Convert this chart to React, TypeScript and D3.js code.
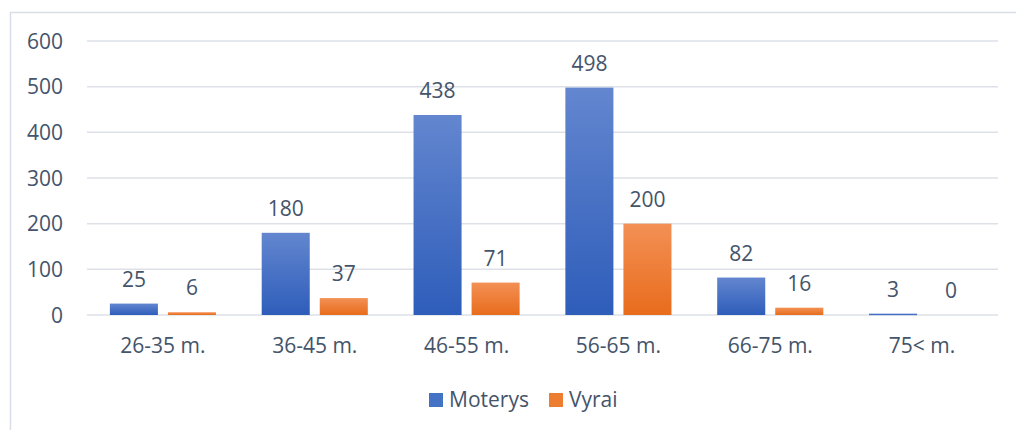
import React, { useRef, useEffect } from 'react';
import * as d3 from 'd3';

const categories = ['26-35 m.', '36-45 m.', '46-55 m.', '56-65 m.', '66-75 m.', '75< m.'];
const seriesNames = ['Moterys', 'Vyrai'];
const moterys = [25, 180, 438, 498, 82, 3];
const vyrai = [6, 37, 71, 200, 16, 0];
const yTicks = [0, 100, 200, 300, 400, 500, 600];

const width = 1016;
const height = 430;
const textColor = '#44546A';
const font = '"Open Sans", "Noto Sans", sans-serif';

const App: React.FC = () => {
  const svgRef = useRef<SVGSVGElement>(null);

  useEffect(() => {
    if (!svgRef.current) return;
    const svg = d3.select(svgRef.current);
    svg.selectAll('*').remove();

    const plot = { left: 87, right: 998, top: 41, bottom: 315 };

    // gradients for bars
    const defs = svg.append('defs');
    const grads = [
      { id: 'gBlue', top: '#6386CF', bottom: '#2E5DBA' },
      { id: 'gOrange', top: '#F39055', bottom: '#E86C1C' },
    ];
    grads.forEach(gd => {
      const lg = defs.append('linearGradient')
        .attr('id', gd.id)
        .attr('x1', 0).attr('y1', 0).attr('x2', 0).attr('y2', 1);
      lg.append('stop').attr('offset', '0%').attr('stop-color', gd.top);
      lg.append('stop').attr('offset', '100%').attr('stop-color', gd.bottom);
    });
    const fills = ['url(#gBlue)', 'url(#gOrange)'];
    const legendFills = ['#4472C4', '#ED7D31'];

    // chart area border
    svg.append('rect')
      .attr('x', 10.5).attr('y', 12.5)
      .attr('width', 1020).attr('height', 440)
      .attr('fill', 'none')
      .attr('stroke', '#D9DEE6')
      .attr('stroke-width', 1.5);

    const xScale = d3.scaleBand<string>()
      .domain(categories)
      .range([plot.left, plot.right])
      .padding(0);

    const inner = d3.scaleBand<string>()
      .domain(seriesNames)
      .range([0, xScale.bandwidth()])
      .paddingInner(10 / 58)
      .paddingOuter(0.394);

    const yScale = d3.scaleLinear()
      .domain([0, 600])
      .range([plot.bottom, plot.top]);

    // gridlines
    yTicks.forEach(v => {
      svg.append('line')
        .attr('x1', plot.left).attr('x2', plot.right)
        .attr('y1', yScale(v)).attr('y2', yScale(v))
        .attr('stroke', '#DDE1E7')
        .attr('stroke-width', 1.5);

      svg.append('text')
        .attr('x', 63)
        .attr('y', yScale(v) + 7.5)
        .attr('text-anchor', 'end')
        .attr('font-family', font)
        .attr('font-size', '21px')
        .attr('fill', textColor)
        .text(v);
    });

    const data = [moterys, vyrai];

    categories.forEach((cat, ci) => {
      const cx = xScale(cat)!;
      seriesNames.forEach((s, si) => {
        const v = data[si][ci];
        const bx = cx + inner(s)!;
        const bw = inner.bandwidth();
        if (v > 0) {
          svg.append('rect')
            .attr('x', bx)
            .attr('y', yScale(v))
            .attr('width', bw)
            .attr('height', Math.max(plot.bottom - yScale(v), 1.5))
            .attr('fill', fills[si]);
        }
        svg.append('text')
          .attr('x', bx + bw / 2)
          .attr('y', yScale(v) - 17)
          .attr('text-anchor', 'middle')
          .attr('font-family', font)
          .attr('font-size', '21px')
          .attr('fill', textColor)
          .text(v);
      });

      svg.append('text')
        .attr('x', cx + xScale.bandwidth() / 2)
        .attr('y', 353)
        .attr('text-anchor', 'middle')
        .attr('font-family', font)
        .attr('font-size', '21px')
        .attr('fill', textColor)
        .text(cat);
    });

    // legend
    const legendX = [429, 549];
    seriesNames.forEach((s, i) => {
      svg.append('rect')
        .attr('x', legendX[i])
        .attr('y', 393)
        .attr('width', 14)
        .attr('height', 14)
        .attr('fill', legendFills[i]);
      svg.append('text')
        .attr('x', legendX[i] + 20)
        .attr('y', 407)
        .attr('font-family', font)
        .attr('font-size', '21px')
        .attr('fill', textColor)
        .text(s);
    });
  }, []);

  return (
    <svg
      ref={svgRef}
      width={width}
      height={height}
      style={{ position: 'absolute', left: 0, top: 0, background: '#fff' }}
    />
  );
};

export default App;
